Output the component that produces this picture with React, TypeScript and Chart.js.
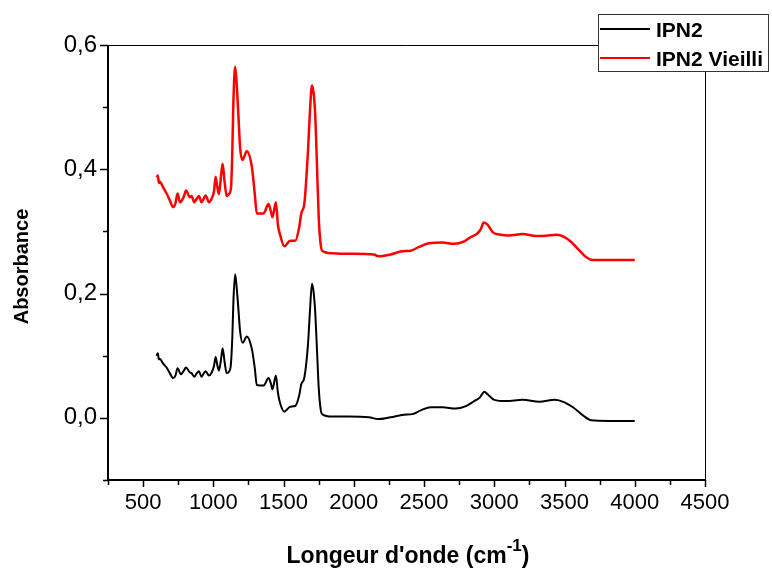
import React, { useEffect, useRef } from "react";
import { Chart, registerables } from "chart.js";

Chart.register(...registerables);

// ---- Data ----
const seriesLabels = ["IPN2", "IPN2 Vieilli"];
const seriesColors = ["#000000", "#ff0000"];

const ipn2Wavenumbers = [
  595, 605, 612, 619, 640, 667, 690, 714, 730, 745, 769, 790, 805, 833, 845, 864, 880, 897, 916, 930, 945,
  969, 988, 1005, 1016, 1028, 1040, 1055, 1066, 1080, 1095, 1110, 1123, 1135, 1143, 1155, 1166, 1179, 1190,
  1209, 1238, 1274, 1295, 1309, 1357, 1393, 1410, 1421, 1445, 1460, 1476, 1505, 1548, 1583, 1610, 1626, 1648,
  1674, 1688, 1702, 1714, 1726, 1738, 1750, 1762, 1774, 1845, 1964, 2107, 2174, 2262, 2357, 2417, 2476, 2548,
  2631, 2726, 2798, 2857, 2898, 2929, 2952, 3000, 3083, 3202, 3321, 3429, 3500, 3560, 3631, 3690, 3821, 4000,
];
const ipn2Absorbance = [
  0.100, 0.104, 0.094, 0.095, 0.088, 0.081, 0.072, 0.064, 0.068, 0.080, 0.070, 0.076, 0.081, 0.073, 0.072,
  0.066, 0.071, 0.075, 0.066, 0.071, 0.075, 0.068, 0.073, 0.084, 0.098, 0.085, 0.076, 0.095, 0.112, 0.090,
  0.072, 0.074, 0.082, 0.130, 0.189, 0.231, 0.210, 0.173, 0.140, 0.121, 0.131, 0.111, 0.080, 0.053, 0.052,
  0.064, 0.055, 0.046, 0.068, 0.040, 0.023, 0.010, 0.018, 0.019, 0.035, 0.054, 0.065, 0.119, 0.173, 0.216,
  0.202, 0.167, 0.108, 0.049, 0.017, 0.006, 0.002, 0.002, 0.001, -0.002, 0.001, 0.005, 0.006, 0.012, 0.017,
  0.017, 0.015, 0.019, 0.027, 0.033, 0.042, 0.038, 0.029, 0.027, 0.029, 0.026, 0.029, 0.025, 0.017, 0.004,
  -0.004, -0.005, -0.005,
];

const agedWavenumbers = [
  595, 605, 612, 619, 640, 667, 690, 714, 730, 745, 762, 790, 805, 833, 845, 864, 880, 897, 916, 930, 945,
  969, 988, 1005, 1016, 1028, 1040, 1055, 1066, 1080, 1095, 1110, 1126, 1135, 1143, 1155, 1166, 1179, 1190,
  1207, 1238, 1274, 1295, 1309, 1357, 1393, 1410, 1421, 1445, 1460, 1476, 1505, 1548, 1583, 1610, 1626, 1648,
  1674, 1688, 1702, 1714, 1726, 1738, 1750, 1762, 1774, 1845, 1964, 2143, 2174, 2262, 2345, 2405, 2464, 2536,
  2631, 2714, 2786, 2833, 2881, 2905, 2924, 2952, 2988, 3036, 3107, 3202, 3298, 3369, 3440, 3500, 3548, 3607,
  3655, 3702, 3821, 4000,
];
const agedAbsorbance = [
  0.387, 0.390, 0.378, 0.380, 0.372, 0.361, 0.350, 0.339, 0.345, 0.361, 0.347, 0.356, 0.366, 0.355, 0.357,
  0.347, 0.352, 0.357, 0.347, 0.352, 0.358, 0.347, 0.353, 0.365, 0.388, 0.372, 0.360, 0.390, 0.409, 0.380,
  0.357, 0.360, 0.371, 0.430, 0.511, 0.565, 0.538, 0.484, 0.436, 0.415, 0.429, 0.404, 0.360, 0.329, 0.329,
  0.344, 0.332, 0.323, 0.347, 0.310, 0.294, 0.276, 0.285, 0.285, 0.305, 0.329, 0.345, 0.431, 0.495, 0.535,
  0.522, 0.484, 0.404, 0.323, 0.283, 0.269, 0.265, 0.264, 0.263, 0.260, 0.263, 0.268, 0.269, 0.275, 0.281,
  0.282, 0.280, 0.284, 0.291, 0.297, 0.304, 0.3145, 0.311, 0.299, 0.295, 0.2935, 0.2957, 0.2925, 0.293,
  0.2946, 0.291, 0.283, 0.269, 0.2585, 0.254, 0.254, 0.254,
];

const xAxisTitle = "Longeur d'onde (cm";
const xAxisTitleSup = "-1";
const yAxisTitle = "Absorbance";

const FONT = '"Liberation Sans", Arial, sans-serif';

const framePlugin = {
  id: "originFrame",
  afterDraw(chart: any) {
    const { ctx, chartArea } = chart;
    const { left, right, top, bottom } = chartArea;
    const xs = chart.scales.x;
    const ys = chart.scales.y;
    ctx.save();
    ctx.strokeStyle = "#000";
    // top & right frame (thin)
    ctx.lineWidth = 1;
    ctx.beginPath();
    ctx.moveTo(left, top + 0.5);
    ctx.lineTo(right + 0.5, top + 0.5);
    ctx.lineTo(right + 0.5, bottom);
    ctx.stroke();
    // left & bottom axes (thick)
    ctx.lineWidth = 2;
    ctx.beginPath();
    ctx.moveTo(left, top);
    ctx.lineTo(left, bottom);
    ctx.lineTo(right + 1, bottom);
    ctx.stroke();
    // ticks
    ctx.lineWidth = 1.5;
    ctx.beginPath();
    for (const t of xs.ticks) {
      const px = Math.round(xs.getPixelForValue(t.value)) + 0.5;
      const major = Math.abs(t.value % 500) < 1e-6;
      ctx.moveTo(px, bottom);
      ctx.lineTo(px, bottom + (major ? 7 : 5));
    }
    for (const t of ys.ticks) {
      const py = Math.round(ys.getPixelForValue(t.value)) + 0.5;
      const k = Math.round(t.value * 10);
      const major = k % 2 === 0;
      ctx.moveTo(left, py);
      ctx.lineTo(left - (major ? 8 : 5), py);
    }
    ctx.stroke();

    // axis titles
    ctx.fillStyle = "#000";
    ctx.font = `bold 23px ${FONT}`;
    const mainW = ctx.measureText(xAxisTitle).width;
    ctx.font = `bold 17px ${FONT}`;
    const supW = ctx.measureText(xAxisTitleSup).width;
    ctx.font = `bold 23px ${FONT}`;
    const closeW = ctx.measureText(")").width;
    const total = mainW + supW + closeW;
    const x0 = 408 - total / 2;
    const base = 563;
    ctx.textAlign = "left";
    ctx.textBaseline = "alphabetic";
    ctx.fillText(xAxisTitle, x0, base);
    ctx.font = `bold 17px ${FONT}`;
    ctx.fillText(xAxisTitleSup, x0 + mainW, base - 12);
    ctx.font = `bold 23px ${FONT}`;
    ctx.fillText(")", x0 + mainW + supW, base);

    ctx.save();
    ctx.translate(22.5, (top + bottom) / 2 + 4);
    ctx.rotate(-Math.PI / 2);
    ctx.font = `bold 20px ${FONT}`;
    ctx.textAlign = "center";
    ctx.textBaseline = "middle";
    ctx.fillText(yAxisTitle, 0, 0);
    ctx.restore();

    // legend box
    const bx = right - 107;
    const by = top - 31;
    const bw = 170;
    const bh = 57;
    ctx.fillStyle = "#fff";
    ctx.fillRect(bx, by, bw, bh);
    ctx.strokeStyle = "#333";
    ctx.lineWidth = 1;
    ctx.strokeRect(bx + 0.5, by + 0.5, bw, bh);
    chart.data.datasets.forEach((ds: any, i: number) => {
      const ly = by + 15 + i * 29;
      ctx.strokeStyle = ds.borderColor;
      ctx.lineWidth = 2;
      ctx.beginPath();
      ctx.moveTo(bx + 2, ly);
      ctx.lineTo(bx + 52, ly);
      ctx.stroke();
      ctx.fillStyle = "#000";
      ctx.font = `bold 21px ${FONT}`;
      ctx.textAlign = "left";
      ctx.textBaseline = "alphabetic";
      ctx.fillText(ds.label, bx + 58, ly + 7.5);
    });
    ctx.restore();
  },
};

export default function App() {
  const canvasRef = useRef<HTMLCanvasElement | null>(null);

  useEffect(() => {
    if (!canvasRef.current) return;
    const toPoints = (xs: number[], ys: number[]) => xs.map((x, i) => ({ x, y: ys[i] }));
    const chart = new Chart(canvasRef.current, {
      type: "line",
      data: {
        datasets: [
          {
            label: seriesLabels[0],
            data: toPoints(ipn2Wavenumbers, ipn2Absorbance),
            borderColor: seriesColors[0],
            borderWidth: 2,
            pointRadius: 0,
            cubicInterpolationMode: "monotone",
          },
          {
            label: seriesLabels[1],
            data: toPoints(agedWavenumbers, agedAbsorbance),
            borderColor: seriesColors[1],
            borderWidth: 2.5,
            pointRadius: 0,
            cubicInterpolationMode: "monotone",
          },
        ],
      },
      options: {
        animation: false,
        responsive: false,
        maintainAspectRatio: false,
        layout: { padding: { top: 45, right: 67, left: 0, bottom: 0 } },
        plugins: { legend: { display: false }, tooltip: { enabled: false } },
        scales: {
          x: {
            type: "linear",
            min: 250,
            max: 4500,
            border: { display: false },
            grid: { display: true, drawOnChartArea: false, drawTicks: false, color: "rgba(0,0,0,0)" },
            ticks: {
              stepSize: 250,
              autoSkip: false,
              maxRotation: 0,
              padding: 10,
              color: "#000",
              font: { family: FONT, size: 22 },
              callback: (v: any) => (Number(v) % 500 === 0 ? String(v) : ""),
            },
            afterFit: (s: any) => {
              s.height = 92;
            },
          },
          y: {
            type: "linear",
            min: -0.1,
            max: 0.6,
            border: { display: false },
            grid: { display: true, drawOnChartArea: false, drawTicks: false, color: "rgba(0,0,0,0)" },
            ticks: {
              stepSize: 0.1,
              autoSkip: false,
              padding: 11,
              color: "#000",
              font: { family: FONT, size: 24 },
              callback: (v: any) => {
                const k = Math.round(Number(v) * 10);
                if (k < 0 || k % 2 !== 0) return "";
                return (k / 10).toFixed(1).replace(".", ",");
              },
            },
            afterFit: (s: any) => {
              s.width = 108;
            },
          },
        },
      },
      plugins: [framePlugin],
    } as any);
    return () => chart.destroy();
  }, []);

  return (
    <div style={{ position: "absolute", left: 0, top: 0, width: 772, height: 572, background: "#fff" }}>
      <canvas ref={canvasRef} width={772} height={572} style={{ width: 772, height: 572 }} />
    </div>
  );
}
